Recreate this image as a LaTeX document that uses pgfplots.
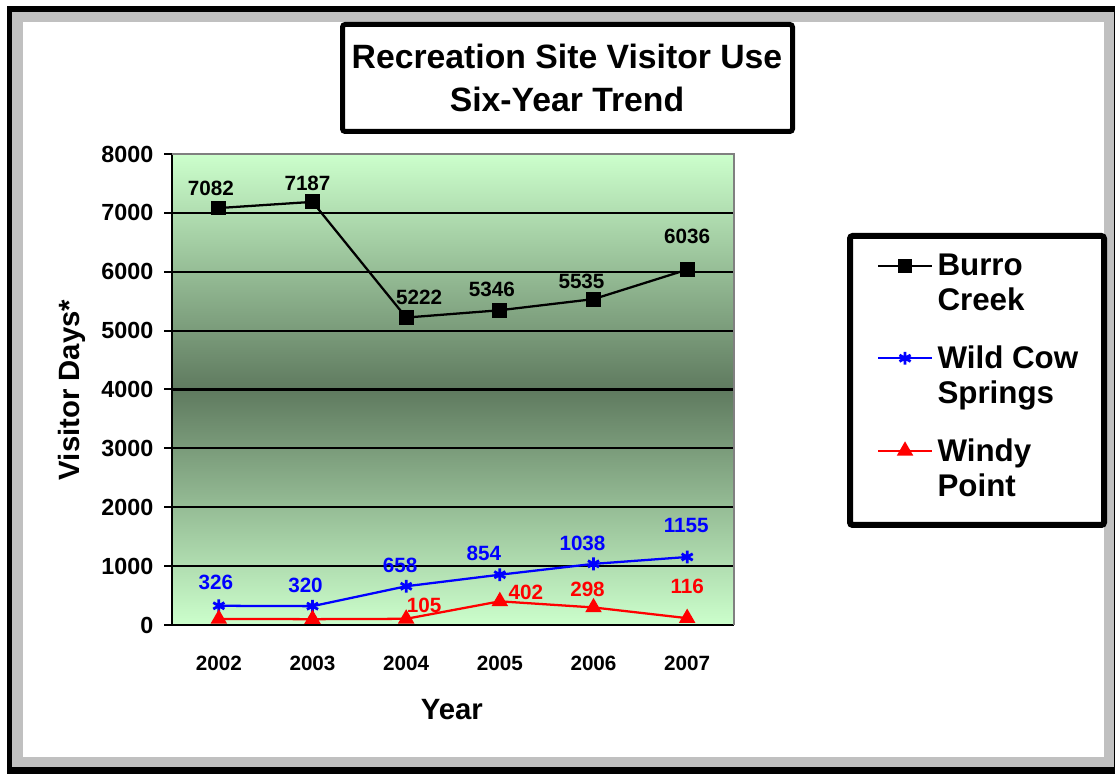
\documentclass[border=0pt]{standalone}
\usepackage{fontspec}
\setmainfont{Liberation Sans}
\usepackage{pgfplots}
\pgfplotsset{compat=1.18}
\usepackage{pgfplotstable}

\definecolor{lg}{RGB}{204,255,204}
\definecolor{dg}{RGB}{95,122,95}
\definecolor{frgray}{RGB}{192,192,192}
\definecolor{bordergray}{RGB}{128,128,128}

\pgfplotstableread{
x y dx dy lab
0 7082 -6.0 14.6 7082
1 7187 -3.75 13.9 7187
2 5222 9.75 15.0 5222
3 5346 -6.0 15.75 5346
4 5535 -9.0 13.5 5535
5 6036 0.0 24.75 6036
}\burro

\pgfplotstableread{
x y dx dy lab
0 326 -2.25 17.25 326
1 320 -5.25 15.75 320
2 658 -4.5 15.75 658
3 854 -12.0 15.75 854
4 1038 -8.25 15.0 1038
5 1155 -0.75 24.0 1155
}\wildcow

\pgfplotstableread{
x y dx dy lab
0 103 0 0 {}
1 99 0 0 {}
2 105 13.5 9.75 105
3 402 19.5 6.75 402
4 298 -4.5 13.5 298
5 116 0.0 24.0 116
}\windy

\begin{document}
\begin{tikzpicture}[x=0.75pt,y=0.75pt]
% frame
\fill[white] (0,0) rectangle (1115,774);
\fill[black] (7,0) rectangle (1115,768);
\fill[frgray] (12,7) rectangle (1114,762);
\fill[white] (23,17) rectangle (1104,752);
% title box
\draw[line width=3.75pt, rounded corners=2pt] (342.5,642.5) rectangle (792.5,749.5);
\node[font=\fontsize{25.3}{32}\selectfont\bfseries, align=center] at (567,696) {Recreation Site Visitor Use\\Six-Year Trend};
% legend box
\draw[line width=4.5pt, rounded corners=2pt] (850,249) rectangle (1104,538);

\begin{axis}[
  at={(129pt,111.75pt)}, anchor=south west,
  scale only axis, width=421.5pt, height=353.25pt,
  xmin=-0.5, xmax=5.5, ymin=0, ymax=8000,
  clip=false,
  axis lines*=left,
  axis line style={-, black, line width=1.5pt},
  xtick={0,1,2,3,4,5},
  xticklabels={2002,2003,2004,2005,2006,2007},
  ytick={0,1000,2000,3000,4000,5000,6000,7000,8000},
  xtick style={draw=none},
  ytick style={black, line width=1.5pt},
  tick align=outside,
  major tick length=6pt,
  ymajorgrids,
  grid style={black, line width=1.6pt},
  axis background/.style={shade, top color=lg, bottom color=lg, middle color=dg},
  /pgf/number format/assume math mode=true,
  /pgf/number format/set thousands separator={},
  yticklabel style={font=\fontsize{17.5}{20}\selectfont\bfseries, anchor=east, xshift=-4.5pt},
  xticklabel style={font=\fontsize{15.5}{18}\selectfont\bfseries, anchor=center, yshift=-22.5pt},
  xlabel={Year},
  ylabel={Visitor Days*},
  xlabel style={font=\fontsize{22}{26}\selectfont\bfseries, at={(axis description cs:0.498,-0.180)}, anchor=center},
  ylabel style={font=\fontsize{22}{26}\selectfont\bfseries, at={(axis description cs:-0.178,0.499)}, anchor=center, rotate=0},
  point meta=explicit symbolic,
  nodes near coords,
  visualization depends on={\thisrow{dx}\as\dx},
  visualization depends on={\thisrow{dy}\as\dy},
  every node near coord/.append style={anchor=center, inner sep=0pt, xshift=\dx pt, yshift=\dy pt, font=\fontsize{15.5}{18}\selectfont\bfseries},
  legend style={draw=none, fill=none, at={(axis description cs:1.2544,0.7936)}, anchor=north west,
    font=\fontsize{23.5}{26.25}\selectfont\bfseries, cells={align=left, anchor=west}, row sep=20.75pt, column sep=1.5pt, inner sep=0pt},
  legend image code/.code={\draw[mark repeat=2, mark phase=2] plot coordinates {(0pt,13pt) (20pt,13pt) (40pt,13pt)};},
]
\addplot[black, line width=1.7pt, mark=square*, mark size=4.7pt, mark options={solid}, every node near coord/.append style={text=black}] table[x=x, y=y, meta=lab] {\burro};
\addlegendentry{Burro\\Creek}
\addplot[blue, line width=1.7pt, mark=asterisk, mark size=4.8pt, mark options={solid, line width=2.1pt}, every node near coord/.append style={text=blue}] table[x=x, y=y, meta=lab] {\wildcow};
\addlegendentry{Wild Cow\\Springs}
\addplot[red, line width=1.7pt, mark=triangle*, mark size=5.5pt, mark options={solid}, every node near coord/.append style={text=red}] table[x=x, y=y, meta=lab] {\windy};
\addlegendentry{Windy\\Point}
\draw[bordergray, line width=1.8pt] (rel axis cs:0,1) -- (rel axis cs:1,1) -- (rel axis cs:1,0);
\end{axis}
\end{tikzpicture}
\end{document}
